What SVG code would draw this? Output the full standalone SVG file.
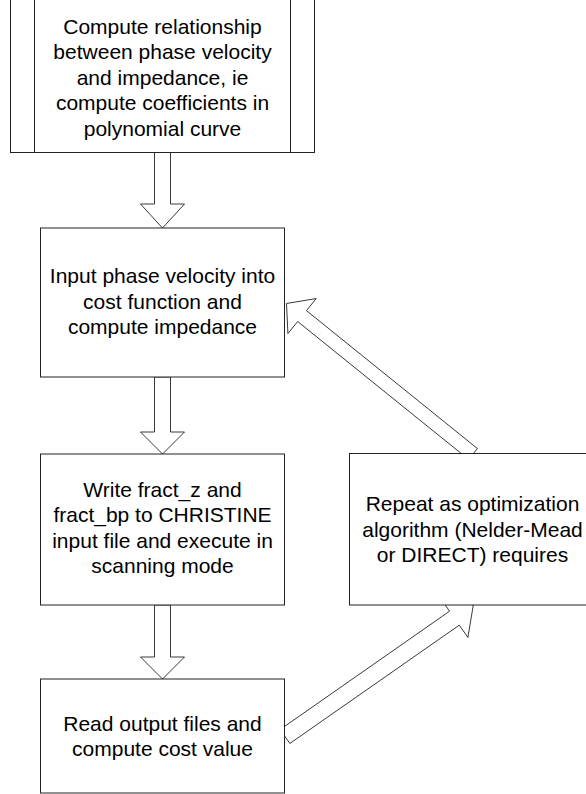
<svg xmlns="http://www.w3.org/2000/svg" width="586" height="794" viewBox="0 0 586 794">
<style>
.box{fill:#fff;stroke:#222;stroke-width:1}
.arr{fill:#fff;stroke:#222;stroke-width:0.9;stroke-linejoin:miter}
text{font-family:"Liberation Sans",Arial,sans-serif;font-size:21px;fill:#000;text-anchor:middle}
</style>
<rect width="586" height="794" fill="#fff"/>
<g id="connectors">
<polygon class="arr" points="154.5,152 170.5,152 170.5,204 184.5,204 162.5,228 140.5,204 154.5,204"/>
<polygon class="arr" points="154.5,377 170.5,377 170.5,432 184.5,432 162.5,454 140.5,432 154.5,432"/>
<polygon class="arr" points="154.5,605 170.5,605 170.5,657 184.5,657 162.5,679 140.5,657 154.5,657"/>
<polygon class="arr" points="477.40,448.55 306.46,310.61 316.19,298.55 286.5,303.5 287.93,333.57 297.66,321.51 468.60,459.45"/>
<polygon class="arr" points="289.87,743.47 459.31,625.14 467.90,637.44 473.3,605 440.98,598.90 449.57,611.20 280.13,729.53"/>
</g>
<g id="node1">
<rect class="box" x="10.5" y="-2" width="304" height="154.5"/>
<line x1="34.5" y1="-2" x2="34.5" y2="152.5" stroke="#222"/>
<line x1="290.5" y1="-2" x2="290.5" y2="152.5" stroke="#222"/>
<text x="162.5" y="33.5">Compute relationship</text>
<text x="162.5" y="59.3">between phase velocity</text>
<text x="162.5" y="85">and impedance, ie</text>
<text x="162.5" y="110.3">compute coefficients in</text>
<text x="162.5" y="135.5">polynomial curve</text>
</g>
<g id="node2">
<rect class="box" x="40.5" y="228" width="244" height="149"/>
<text x="162.5" y="283">Input phase velocity into</text>
<text x="162.5" y="308.5">cost function and</text>
<text x="162.5" y="334">compute impedance</text>
</g>
<g id="node3">
<rect class="box" x="40.5" y="454" width="244" height="151"/>
<text x="162.5" y="497">Write fract_z and</text>
<text x="162.5" y="522.3">fract_bp to CHRISTINE</text>
<text x="162.5" y="547.6">input file and execute in</text>
<text x="162.5" y="573">scanning mode</text>
</g>
<g id="node4">
<rect class="box" x="40.5" y="679" width="244" height="114"/>
<text x="162.5" y="730.5">Read output files and</text>
<text x="162.5" y="756">compute cost value</text>
</g>
<g id="node5">
<rect class="box" x="349.5" y="453.5" width="246" height="151.5"/>
<text x="472.5" y="511">Repeat as optimization</text>
<text x="472.5" y="536.5">algorithm (Nelder-Mead</text>
<text x="472.5" y="562">or DIRECT) requires</text>
</g>
</svg>
